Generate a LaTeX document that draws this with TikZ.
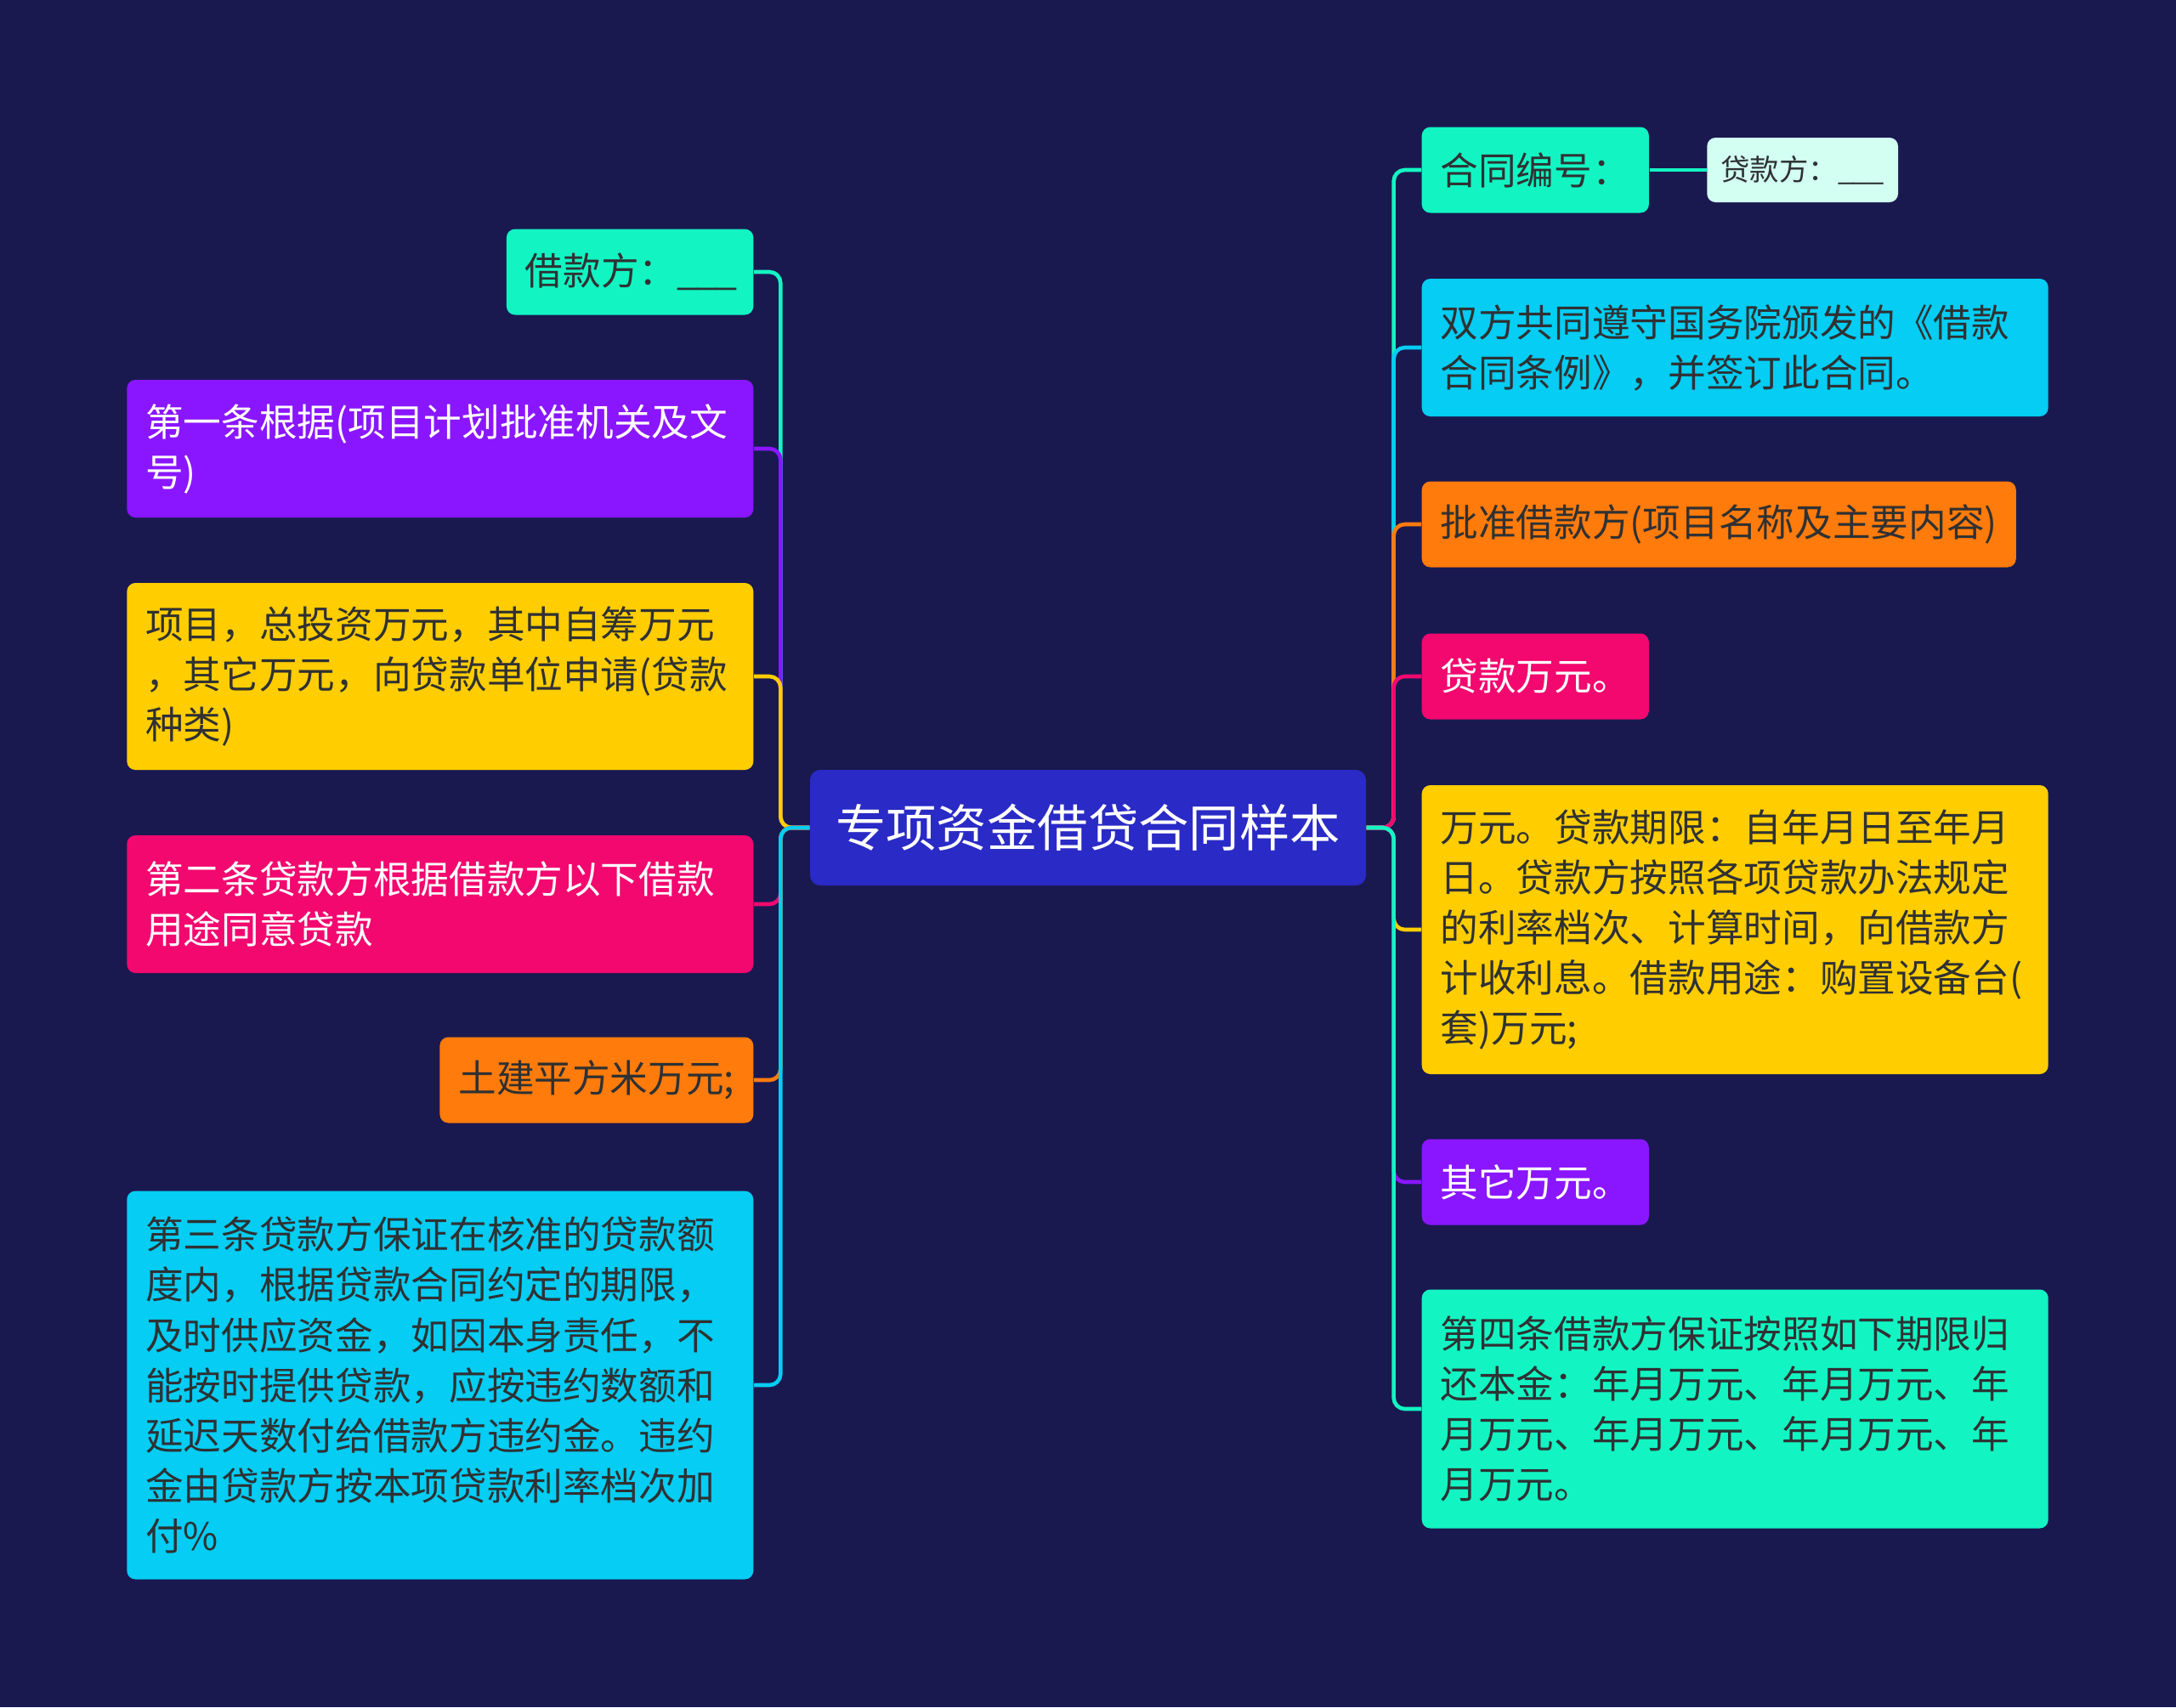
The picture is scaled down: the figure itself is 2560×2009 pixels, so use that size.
\documentclass[tikz,border=0pt]{standalone}
\usepackage{fontspec}
\setmainfont{Noto Sans CJK SC}
\usepackage{tikz}
\usetikzlibrary{positioning}
\definecolor{bgnavy}{HTML}{191950}
\definecolor{rootblue}{HTML}{2A2AC6}
\definecolor{mint}{HTML}{12F5C3}
\definecolor{palemint}{HTML}{D2FFF1}
\definecolor{violet}{HTML}{8A16FF}
\definecolor{amber}{HTML}{FFCD00}
\definecolor{rose}{HTML}{F2086F}
\definecolor{tangerine}{HTML}{FF7B0C}
\definecolor{sky}{HTML}{05CDF3}
\definecolor{ink}{HTML}{2F3133}

\begin{document}
\begin{tikzpicture}[x=0.1mm,y=-0.1mm,
  box/.style={rounded corners=1mm,align=left,inner xsep=2.2mm,inner ysep=0pt,
    font=\fontsize{12.7}{16.8}\selectfont,text=ink},
  wide/.style={box,text width=6.93cm},
  link/.style={draw=#1,line width=1.3pt,rounded corners=1.3mm}]
\fill[bgnavy] (0,0) rectangle (2560,2009);
% centre
\node[fill=rootblue,text=white,rounded corners=1.2mm,minimum width=65.4mm,minimum height=13.6mm,
  font=\fontsize{16.9}{20}\selectfont] (root) at (1280,974) {专项资金借贷合同样本};
% left side
\node[box,fill=mint,minimum height=10.1mm,anchor=east] (borrower) at (887,320) {借款方：\_\kern-.5pt\_\kern-.5pt\_\kern-1pt};
\node[wide,fill=violet,text=white,minimum height=16.2mm,anchor=east] (art1) at (887,528) {第一条根据(项目计划批准机关及文\\号)};
\node[wide,fill=amber,minimum height=22mm,anchor=east] (project) at (887,796) {项目，总投资万元，其中自筹万元\\，其它万元，向贷款单位申请(贷款\\种类)};
\node[wide,fill=rose,text=white,minimum height=16.2mm,anchor=east] (art2) at (887,1064) {第二条贷款方根据借款方以下借款\\用途同意贷款};
\node[box,fill=tangerine,minimum height=10.1mm,anchor=east] (civil) at (887,1271) {土建平方米万元;};
\node[wide,fill=sky,minimum height=45.7mm,anchor=east] (art3) at (887,1630) {第三条贷款方保证在核准的贷款额\\度内，根据贷款合同约定的期限，\\及时供应资金，如因本身责任，不\\能按时提供贷款，应按违约数额和\\延迟天数付给借款方违约金。违约\\金由贷款方按本项贷款利率档次加\\付\%};
% right side
\node[box,fill=mint,minimum height=10.1mm,anchor=west] (number) at (1672,200) {合同编号：};
\node[box,fill=palemint,minimum height=7.6mm,inner xsep=1.6mm,font=\fontsize{9.8}{12}\selectfont,
  right=6.7mm of number] (lender) {贷款方：\_\kern-.4pt\_\kern-.4pt\_};
\node[wide,fill=sky,minimum height=16.2mm,anchor=west] (rules) at (1672,409) {双方共同遵守国务院颁发的《借款\\合同条例》，并签订此合同。};
\node[box,fill=tangerine,minimum height=10.1mm,anchor=west] (approve) at (1672,617) {批准借款方(项目名称及主要内容)};
\node[box,fill=rose,text=white,minimum height=10.1mm,anchor=west] (loan) at (1672,796) {贷款万元。};
\node[wide,fill=amber,minimum height=34mm,anchor=west] (term) at (1672,1094) {万元。贷款期限：自年月日至年月\\日。贷款方按照各项贷款办法规定\\的利率档次、计算时间，向借款方\\计收利息。借款用途：购置设备台(\\套)万元;};
\node[box,fill=violet,text=white,minimum height=10.1mm,anchor=west] (other) at (1672,1391) {其它万元。};
\node[wide,fill=mint,minimum height=28.1mm,anchor=west] (art4) at (1672,1658) {第四条借款方保证按照如下期限归\\还本金：年月万元、年月万元、年\\月万元、年月万元、年月万元、年\\月万元。};
% connectors
\draw[link=mint] (root.west) -- ++(-34,0) |- (borrower.east);
\draw[link=violet] (root.west) -- ++(-34,0) |- (art1.east);
\draw[link=amber] (root.west) -- ++(-34,0) |- (project.east);
\draw[link=rose] (root.west) -- ++(-34,0) |- (art2.east);
\draw[link=tangerine] (root.west) -- ++(-34,0) |- (civil.east);
\draw[link=sky] (root.west) -- ++(-34,0) |- (art3.east);
\draw[link=mint] (root.east) -- ++(32,0) |- (number.west);
\draw[link=sky] (root.east) -- ++(32,0) |- (rules.west);
\draw[link=tangerine] (root.east) -- ++(32,0) |- (approve.west);
\draw[link=rose] (root.east) -- ++(32,0) |- (loan.west);
\draw[link=amber] (root.east) -- ++(32,0) |- (term.west);
\draw[link=violet] (root.east) -- ++(32,0) |- (other.west);
\draw[link=mint] (root.east) -- ++(32,0) |- (art4.west);
\draw[link=mint] (number.east) -- (lender.west);
\end{tikzpicture}
\end{document}
